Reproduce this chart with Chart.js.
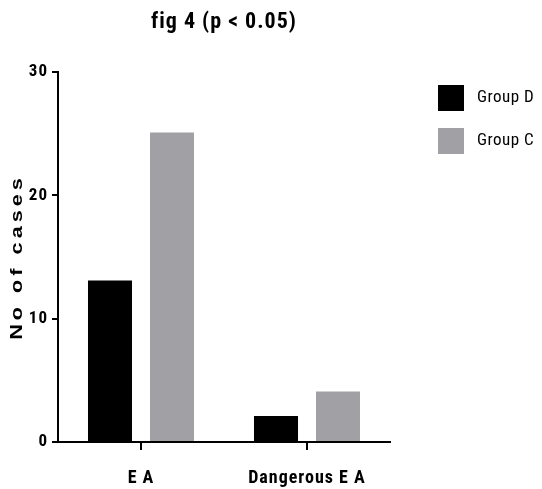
<!DOCTYPE html>
<html>
<head>
<meta charset="utf-8">
<script src="https://cdn.jsdelivr.net/npm/chart.js@4.4.1/dist/chart.umd.min.js"></script>
<style>
  html, body { margin: 0; padding: 0; background: #fff; }
  #wrap { width: 542px; height: 489px; }
</style>
</head>
<body>
<div id="wrap"><canvas id="chart" width="542" height="489"></canvas></div>
<script>
// fig 4 - cases per group
const categories = ["E A", "Dangerous E A"];
const seriesNames = ["Group D", "Group C"];
const groupD = [13.1, 2.1];
const groupC = [25.1, 4.1];
const yTicks = [0, 10, 20, 30];
const colors = ["#000000", "#a1a0a5"];

const NARROW = "'Liberation Sans Narrow', 'Roboto Condensed', 'DejaVu Sans Condensed', sans-serif";
const WIDE = "'Liberation Sans', Arial, sans-serif";

// canvas text spacing (Chart.js has no option for it)
const spacingPlugin = {
  id: "spacing",
  beforeDraw(chart) {
    chart.ctx.letterSpacing = "1px";
  }
};

// rotated, stretched y axis title
const yTitlePlugin = {
  id: "yTitle",
  afterDraw(chart) {
    const ctx = chart.ctx;
    const area = chart.chartArea;
    ctx.save();
    ctx.letterSpacing = "3px";
    ctx.translate(17.5, (area.top + area.bottom) / 2 + 2);
    ctx.rotate(-Math.PI / 2);
    ctx.scale(1.35, 1);
    ctx.font = "bold 16px " + WIDE;
    ctx.fillStyle = "#000";
    ctx.textAlign = "center";
    ctx.textBaseline = "middle";
    ctx.fillText("No of cases", 1.5, 0);
    ctx.restore();
  }
};

// legend sits well clear of the plot, drawn by hand
const legendPlugin = {
  id: "sideLegend",
  afterDraw(chart) {
    const ctx = chart.ctx;
    const area = chart.chartArea;
    const x = area.right + 48;
    let y = area.top + 13;
    ctx.save();
    ctx.letterSpacing = "0.5px";
    ctx.font = "17px " + NARROW;
    ctx.textAlign = "left";
    ctx.textBaseline = "middle";
    chart.data.datasets.forEach((ds) => {
      ctx.fillStyle = ds.backgroundColor;
      ctx.fillRect(x, y, 26, 26);
      ctx.fillStyle = "#000";
      ctx.fillText(ds.label, x + 39, y + 13);
      y += 43;
    });
    ctx.restore();
  }
};

new Chart(document.getElementById("chart"), {
  type: "bar",
  data: {
    labels: categories,
    datasets: [
      { label: seriesNames[0], data: groupD, backgroundColor: colors[0] },
      { label: seriesNames[1], data: groupC, backgroundColor: colors[1] }
    ]
  },
  options: {
    responsive: false,
    animation: false,
    devicePixelRatio: 1,
    layout: { padding: { left: 0, right: 152, top: 0, bottom: 0 } },
    datasets: { bar: { categoryPercentage: 0.747, barPercentage: 0.71 } },
    plugins: {
      title: {
        display: true,
        text: "fig 4 (p < 0.05)",
        fullSize: false,
        color: "#000",
        font: { family: NARROW, size: 22, weight: "bold" },
        padding: { top: 8.8, bottom: 36.8 }
      },
      legend: { display: false },
      tooltip: { enabled: false }
    },
    scales: {
      x: {
        offset: true,
        grid: { offset: false, drawOnChartArea: false, drawTicks: true, tickLength: 8, color: "#000", lineWidth: 2 },
        border: { display: true, color: "#000", width: 2 },
        ticks: { color: "#000", padding: 18, font: { family: NARROW, size: 18, weight: "bold" } },
        afterFit: (s) => { s.height = 47; }
      },
      y: {
        min: 0,
        max: 30,
        afterBuildTicks: (s) => { s.ticks = yTicks.map((v) => ({ value: v })); },
        grid: { drawOnChartArea: false, drawTicks: true, tickLength: 6, color: "#000", lineWidth: 2 },
        border: { display: true, color: "#000", width: 2 },
        ticks: { color: "#000", padding: 4, font: { family: NARROW, size: 17, weight: "bold" } },
        afterFit: (s) => { s.width = 58; }
      }
    }
  },
  plugins: [spacingPlugin, yTitlePlugin, legendPlugin]
});
</script>
</body>
</html>
